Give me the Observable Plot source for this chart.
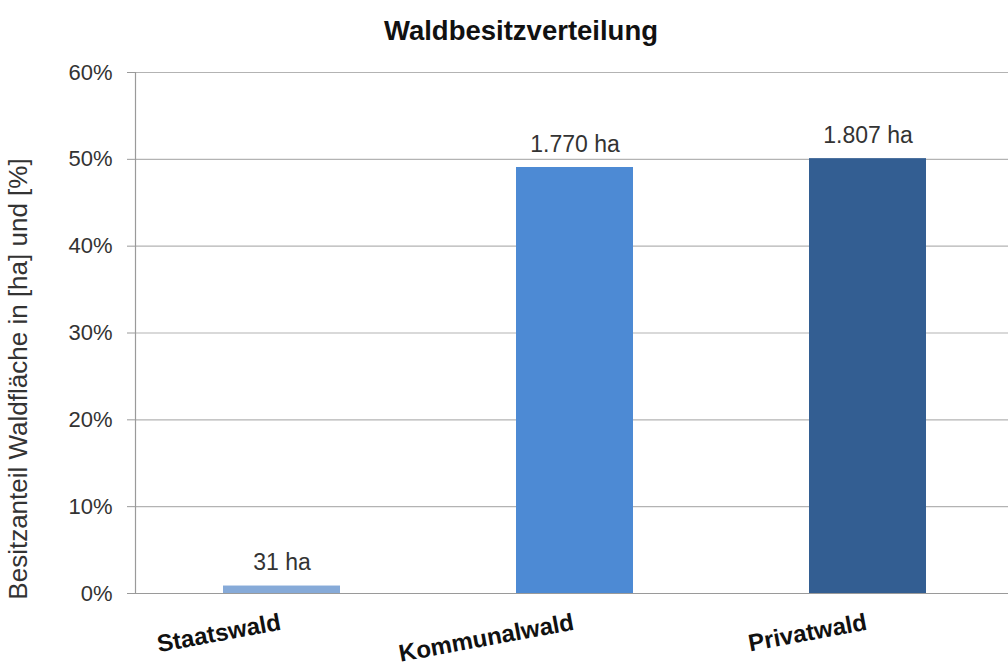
<!DOCTYPE html>
<html>
<head>
<meta charset="utf-8">
<script src="https://cdn.jsdelivr.net/npm/d3@7"></script>
<script src="https://cdn.jsdelivr.net/npm/@observablehq/plot@0.6"></script>
<style>
  html, body { margin: 0; padding: 0; background: #fff; }
</style>
</head>
<body>
<div id="chart"></div>
<script>
const title = "Waldbesitzverteilung";
const yLabel = "Besitzanteil Waldfläche in [ha] und [%]";
const categories = ["Staatswald", "Kommunalwald", "Privatwald"];
const shares = [0.86, 49.06, 50.08];
const valueLabels = ["31 ha", "1.770 ha", "1.807 ha"];
const yTicks = [0, 10, 20, 30, 40, 50, 60];
const barColors = ["#86aad8", "#4d8ad4", "#335e92"];

const data = categories.map((c, i) => ({category: c, share: shares[i], label: valueLabels[i]}));

const chart = Plot.plot({
  width: 1008,
  height: 667,
  marginTop: 72,
  marginBottom: 74,
  marginLeft: 135,
  marginRight: -6,
  style: {fontFamily: "'Liberation Sans', Arial, sans-serif", fontSize: "22px", color: "#333", background: "#fff"},
  x: {domain: categories, range: [135, 1014], paddingInner: 0.6, paddingOuter: 0.3, axis: null},
  y: {domain: [0, 60], axis: null},
  color: {domain: categories, range: barColors},
  marks: [
    Plot.ruleY(yTicks.slice(1), {stroke: "#b3b3b3", strokeWidth: 1.2}),
    Plot.barY(data, {x: "category", y: "share", fill: "category"}),
    Plot.ruleY([0], {stroke: "#9a9a9a", strokeWidth: 1.2}),
    Plot.ruleX(categories, {x: d => d, dx: -146.5, y1: 0, y2: -0.09, stroke: "#9a9a9a", strokeWidth: 1.2}),
    Plot.ruleX(categories.slice(0, 1), {x: d => d, dx: -146.5, y1: 0, y2: 60, stroke: "#9a9a9a", strokeWidth: 1.2}),
    Plot.axisY({ticks: yTicks, tickSize: 8, tickPadding: 15, tickFormat: d => d + "%", stroke: "#9a9a9a", fill: "#333", fontSize: 22, label: null}),
    Plot.text(data, {x: "category", y: "share", text: "label", dy: -23, fontSize: 23, fill: "#333"}),
    Plot.text(categories, {x: d => d, text: d => d, frameAnchor: "bottom", dy: 36, rotate: -10.5, textAnchor: "end", fontWeight: "bold", fontSize: 24, fill: "#111"}),
    Plot.text([title], {frameAnchor: "top", dx: -54, dy: -52, fontWeight: "bold", fontSize: 27.5, fill: "#111"}),
    Plot.text([yLabel], {frameAnchor: "left", textAnchor: "middle", rotate: -90, dx: -117, dy: 46, fontSize: 26, fill: "#333"})
  ]
});
document.getElementById("chart").appendChild(chart);
</script>
</body>
</html>
